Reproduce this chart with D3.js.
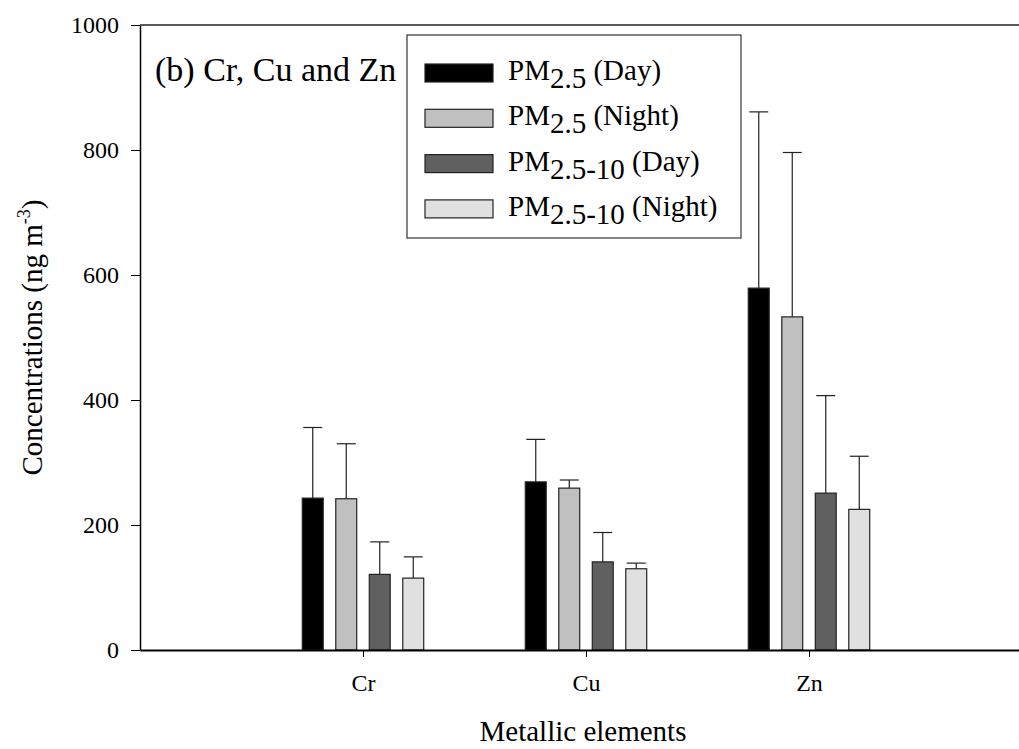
<!DOCTYPE html>
<html>
<head>
<meta charset="utf-8">
<script src="https://cdn.jsdelivr.net/npm/d3@7"></script>
<style>
  body { margin: 0; background: #fff; }
  svg { display: block; font-family: "Liberation Serif", "DejaVu Serif", serif; }
</style>
</head>
<body>
<svg id="chart" width="1019" height="749"></svg>
<script>
// data
var elements = ["Cr", "Cu", "Zn"];
var seriesNames = ["day25", "night25", "day2510", "night2510"];
var day25 = [243, 269, 579];
var night25 = [242, 259, 533];
var day2510 = [121, 141, 251];
var night2510 = [115, 130, 225];
// upper standard deviations
var day25Err = [113, 68, 282];
var night25Err = [88, 13, 263];
var day2510Err = [52, 47, 156];
var night2510Err = [34, 9, 85];
var yTicks = [0, 200, 400, 600, 800, 1000];

var fills = {day25: "#000000", night25: "#c0c0c0", day2510: "#606060", night2510: "#e0e0e0"};
var legendRows = [
  {key: "day25", sub: "2.5", tail: " (Day)"},
  {key: "night25", sub: "2.5", tail: " (Night)"},
  {key: "day2510", sub: "2.5-10", tail: " (Day)"},
  {key: "night2510", sub: "2.5-10", tail: " (Night)"}
];

var values = {day25: day25, night25: night25, day2510: day2510, night2510: night2510};
var errors = {day25: day25Err, night25: night25Err, day2510: day2510Err, night2510: night2510Err};

var svg = d3.select("#chart");
var plotLeft = 140, plotTop = 25, plotBottom = 650;

// x: element positions 1,2,3 on a 0..4 axis
var x = d3.scaleLinear().domain([0, 4]).range([plotLeft, 1032]);
var y = d3.scaleLinear().domain([0, 1000]).range([plotBottom, plotTop]);
var xs = d3.scaleBand().domain(seriesNames).range([-67, 67])
  .paddingInner(0.375).paddingOuter(0.1875);

var bars = [];
seriesNames.forEach(function(s) {
  elements.forEach(function(el, i) {
    bars.push({s: s, i: i, v: values[s][i], e: errors[s][i]});
  });
});

function barMid(d) { return x(d.i + 1) + xs(d.s) + xs.bandwidth() / 2; }

var g = svg.append("g");

// error bars (upper only) drawn first, bars over them
g.selectAll("line.err").data(bars).enter().append("line")
  .attr("class", "err")
  .attr("x1", barMid).attr("x2", barMid)
  .attr("y1", function(d) { return y(d.v); })
  .attr("y2", function(d) { return y(d.v + d.e); })
  .attr("stroke", "#222").attr("stroke-width", 1.2);

g.selectAll("line.cap").data(bars).enter().append("line")
  .attr("class", "cap")
  .attr("x1", function(d) { return barMid(d) - 9.5; })
  .attr("x2", function(d) { return barMid(d) + 9.5; })
  .attr("y1", function(d) { return y(d.v + d.e); })
  .attr("y2", function(d) { return y(d.v + d.e); })
  .attr("stroke", "#222").attr("stroke-width", 1.2);

g.selectAll("rect.bar").data(bars).enter().append("rect")
  .attr("class", "bar")
  .attr("x", function(d) { return x(d.i + 1) + xs(d.s); })
  .attr("y", function(d) { return y(d.v); })
  .attr("width", xs.bandwidth())
  .attr("height", function(d) { return y(0) - y(d.v); })
  .attr("fill", function(d) { return fills[d.s]; })
  .attr("stroke", "#222").attr("stroke-width", 1.2);

// axes
var yAxis = d3.axisLeft(y).tickValues(yTicks).tickFormat(d3.format("d"))
  .tickSize(9).tickPadding(12).tickSizeOuter(0);
var ya = svg.append("g").attr("transform", "translate(" + plotLeft + ",0)").call(yAxis)
  .attr("font-size", 24).attr("font-family", "Liberation Serif");
ya.select(".domain").attr("stroke", "#000").attr("stroke-width", 1.5);
ya.selectAll("text").attr("fill", "#000");

var xAxis = d3.axisBottom(x).tickValues([1, 2, 3])
  .tickFormat(function(d) { return elements[d - 1]; })
  .tickSize(7).tickPadding(17).tickSizeOuter(0);
var xa = svg.append("g").attr("transform", "translate(0," + plotBottom + ")").call(xAxis)
  .attr("font-size", 24).attr("font-family", "Liberation Serif");
xa.select(".domain").attr("stroke", "#000").attr("stroke-width", 2);
xa.selectAll("text").attr("fill", "#000");

// top frame line
svg.append("line")
  .attr("x1", plotLeft).attr("x2", 1019).attr("y1", plotTop).attr("y2", plotTop)
  .attr("stroke", "#222").attr("stroke-width", 1.5);

// axis titles
svg.append("text")
  .attr("x", 583).attr("y", 741)
  .attr("text-anchor", "middle").attr("font-size", 29)
  .text("Metallic elements");

var ylab = svg.append("text")
  .attr("transform", "translate(42," + (plotTop + plotBottom) / 2 + ") rotate(-90)")
  .attr("text-anchor", "middle").attr("font-size", 29);
ylab.append("tspan").text("Concentrations (ng m");
ylab.append("tspan").attr("dy", -12).attr("font-size", 18).text("-3");
ylab.append("tspan").attr("dy", 12).text(")");

// panel title
svg.append("text")
  .attr("x", 155).attr("y", 81).attr("font-size", 34)
  .text("(b) Cr, Cu and Zn");

// legend
var lg = svg.append("g");
lg.append("rect")
  .attr("x", 407).attr("y", 35).attr("width", 334).attr("height", 203)
  .attr("fill", "#fff").attr("stroke", "#333").attr("stroke-width", 1.2);

var rows = lg.selectAll("g.row").data(legendRows).enter().append("g")
  .attr("transform", function(d, i) { return "translate(0," + (73 + i * 45.3) + ")"; });

rows.append("rect")
  .attr("x", 425).attr("y", -9).attr("width", 68).attr("height", 18)
  .attr("fill", function(d) { return fills[d.key]; })
  .attr("stroke", "#222").attr("stroke-width", 1.2);

var lt = rows.append("text").attr("x", 508).attr("y", 7).attr("font-size", 29);
lt.append("tspan").text("PM");
lt.append("tspan").attr("dy", 8).text(function(d) { return d.sub; });
lt.append("tspan").attr("dy", -8).text(function(d) { return d.tail; });
</script>
</body>
</html>
